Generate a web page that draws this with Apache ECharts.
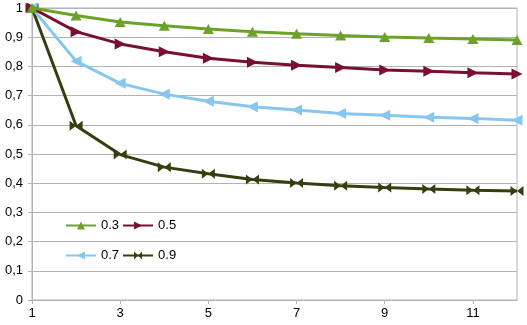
<!DOCTYPE html>
<html><head><meta charset="utf-8">
<script src="https://cdn.jsdelivr.net/npm/echarts@6/dist/echarts.min.js"></script>
<style>html,body{margin:0;padding:0;background:#fff}#c{width:527px;height:325px}</style>
</head><body><div id="c"></div>
<script>
const categories = ['1','2','3','4','5','6','7','8','9','10','11','12'];
const s03 = [1, 0.974, 0.952, 0.939, 0.928, 0.919, 0.912, 0.906, 0.901, 0.897, 0.894, 0.890];
const s05 = [1, 0.919, 0.877, 0.850, 0.828, 0.814, 0.804, 0.796, 0.788, 0.783, 0.778, 0.774];
const s07 = [1, 0.818, 0.742, 0.705, 0.681, 0.662, 0.651, 0.639, 0.633, 0.626, 0.622, 0.616];
const s09 = [1, 0.597, 0.498, 0.455, 0.432, 0.413, 0.401, 0.391, 0.385, 0.380, 0.376, 0.373];
const seriesNames = ['0.3','0.5','0.7','0.9'];
const yTicks = [0,0.1,0.2,0.3,0.4,0.5,0.6,0.7,0.8,0.9,1];

const colors = ['#6ca12a','#7a0f30','#87c6ef','#333f0f'];
const symbols = [
  'triangle',
  'path://M0,0L10,5L0,10Z',
  'path://M10,0L0,5L10,10Z',
  'path://M0,0L10,5L0,10ZM20,0L10,5L20,10Z'
];
const sizes = [[11,10],[11,11],[11,11],[13,10]];
const data = [s03,s05,s07,s09];

const chart = echarts.init(document.getElementById('c'));
chart.setOption({
  animation:false,
  textStyle:{fontFamily:'Liberation Sans, Arial, sans-serif'},
  grid:{left:32,right:10,top:8,bottom:25,show:true,borderColor:'#b3b3b3',borderWidth:1},
  xAxis:{type:'category',data:categories,boundaryGap:false,
    axisLine:{lineStyle:{color:'#b3b3b3'}},
    axisTick:{show:true,interval:1,length:4,lineStyle:{color:'#b3b3b3'}},
    axisLabel:{interval:1,color:'#000',fontSize:13,margin:7},
    splitLine:{show:false}},
  yAxis:{type:'value',min:0,max:1,interval:0.1,
    axisLine:{show:true,lineStyle:{color:'#b3b3b3'}},
    axisTick:{show:true,length:4,lineStyle:{color:'#b3b3b3'}},
    axisLabel:{color:'#000',fontSize:13,margin:9,
      formatter:v=>{const t=yTicks.find(x=>Math.abs(x-v)<1e-9);return t===undefined?'':String(+t.toFixed(1)).replace('.',',');}},
    splitLine:{lineStyle:{color:'#b3b3b3'}}},
  legend:[
    {data:['0.3','0.5'],left:65,top:219,itemWidth:30,itemHeight:10,itemGap:3,
      textStyle:{color:'#000',fontSize:13},padding:0},
    {data:['0.7','0.9'],left:65,top:249,itemWidth:30,itemHeight:10,itemGap:3,
      textStyle:{color:'#000',fontSize:13},padding:0}
  ],
  series:data.map((d,i)=>({
    name:seriesNames[i],type:'line',data:d,color:colors[i],
    symbol:symbols[i],symbolSize:sizes[i],showSymbol:true,
    lineStyle:{width:3,color:colors[i]},itemStyle:{color:colors[i]},
    z:10-i
  }))
});
</script></body></html>
